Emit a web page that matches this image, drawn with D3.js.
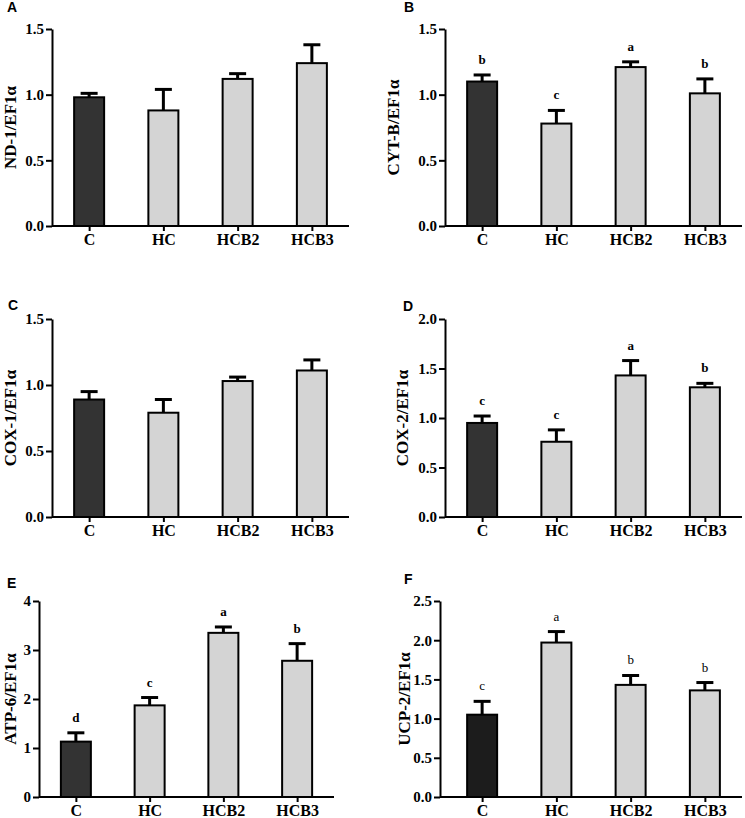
<!DOCTYPE html>
<html>
<head>
<meta charset="utf-8">
<script src="https://cdn.jsdelivr.net/npm/d3@7"></script>
<style>
  html, body { margin: 0; padding: 0; background: #fff; }
  svg { display: block; }
</style>
</head>
<body>
<svg id="chart" width="745" height="818"></svg>
<script>
// ---------- data ----------
const categories = ["C", "HC", "HCB2", "HCB3"];

const nd1Mean = [0.98, 0.88, 1.12, 1.24];
const nd1Err  = [0.03, 0.16, 0.04, 0.14];
const nd1Sig  = [];

const cytbMean = [1.10, 0.78, 1.21, 1.01];
const cytbErr  = [0.05, 0.10, 0.04, 0.11];
const cytbSig  = ["b", "c", "a", "b"];

const cox1Mean = [0.89, 0.79, 1.03, 1.11];
const cox1Err  = [0.06, 0.10, 0.03, 0.08];
const cox1Sig  = [];

const cox2Mean = [0.95, 0.76, 1.43, 1.31];
const cox2Err  = [0.07, 0.12, 0.15, 0.04];
const cox2Sig  = ["c", "c", "a", "b"];

const atp6Mean = [1.13, 1.87, 3.35, 2.78];
const atp6Err  = [0.18, 0.16, 0.12, 0.35];
const atp6Sig  = ["d", "c", "a", "b"];

const ucp2Mean = [1.05, 1.97, 1.43, 1.36];
const ucp2Err  = [0.17, 0.14, 0.12, 0.10];
const ucp2Sig  = ["c", "a", "b", "b"];

const ticks15 = [0, 0.5, 1.0, 1.5];
const ticks20 = [0, 0.5, 1.0, 1.5, 2.0];
const ticks4  = [0, 1, 2, 3, 4];
const ticks25 = [0, 0.5, 1.0, 1.5, 2.0, 2.5];

const yLabels = ["ND-1/EF1\u03B1", "CYT-B/EF1\u03B1", "COX-1/EF1\u03B1", "COX-2/EF1\u03B1", "ATP-6/EF1\u03B1", "UCP-2/EF1\u03B1"];
const panelLetters = ["A", "B", "C", "D", "E", "F"];

// ---------- layout ----------
const panels = [
  { mean: nd1Mean,  err: nd1Err,  sig: nd1Sig,  ticks: ticks15, fmt: ".1f", x0: 52,  bx0: 52,  x1: 349, yT: 29,  yB: 226, lx: 10,  px: 7,   py: 12,  dark: "#333333", sigBold: true },
  { mean: cytbMean, err: cytbErr, sig: cytbSig, ticks: ticks15, fmt: ".1f", x0: 445, bx0: 445, x1: 742, yT: 29,  yB: 226, lx: 393, px: 404, py: 12,  dark: "#333333", sigBold: true },
  { mean: cox1Mean, err: cox1Err, sig: cox1Sig, ticks: ticks15, fmt: ".1f", x0: 52,  bx0: 52,  x1: 349, yT: 319, yB: 517, lx: 10,  px: 8,   py: 310, dark: "#333333", sigBold: true },
  { mean: cox2Mean, err: cox2Err, sig: cox2Sig, ticks: ticks20, fmt: ".1f", x0: 445, bx0: 445, x1: 742, yT: 319, yB: 517, lx: 402, px: 403, py: 311, dark: "#333333", sigBold: true },
  { mean: atp6Mean, err: atp6Err, sig: atp6Sig, ticks: ticks4,  fmt: "d",   x0: 39,  bx0: 39,  x1: 334, yT: 601, yB: 797, lx: 10,  px: 7,   py: 588, dark: "#333333", sigBold: true },
  { mean: ucp2Mean, err: ucp2Err, sig: ucp2Sig, ticks: ticks25, fmt: ".1f", x0: 440, bx0: 445, x1: 742, yT: 601, yB: 797, lx: 404, px: 404, py: 584, dark: "#1c1c1c", sigBold: false }
];

const serif = "'Liberation Serif', 'Times New Roman', serif";
const sans = "'Liberation Sans', Arial, sans-serif";
const barW = 30, capW = 17;

const svg = d3.select("#chart");

panels.forEach((p, i) => {
  const g = svg.append("g");
  const x = d3.scalePoint().domain(categories).range([p.bx0, p.x1]).padding(0.5);
  const y = d3.scaleLinear().domain([0, d3.max(p.ticks)]).range([p.yB, p.yT]);

  const data = categories.map((c, j) => ({ c, m: p.mean[j], e: p.err[j], s: p.sig[j] }));

  // error bars (upper only), drawn behind the bars
  const eb = g.append("g");
  eb.selectAll("line.v").data(data).join("line")
    .attr("x1", d => x(d.c)).attr("x2", d => x(d.c))
    .attr("y1", d => y(d.m)).attr("y2", d => y(d.m + d.e))
    .attr("stroke", "#000").attr("stroke-width", 3);
  eb.selectAll("line.cap").data(data).join("line")
    .attr("x1", d => x(d.c) - capW / 2).attr("x2", d => x(d.c) + capW / 2)
    .attr("y1", d => y(d.m + d.e)).attr("y2", d => y(d.m + d.e))
    .attr("stroke", "#000").attr("stroke-width", 3);

  g.append("g").selectAll("rect").data(data).join("rect")
    .attr("x", d => x(d.c) - barW / 2)
    .attr("y", d => y(d.m))
    .attr("width", barW)
    .attr("height", d => y(0) - y(d.m))
    .attr("fill", (d, j) => j === 0 ? p.dark : "#d4d4d4")
    .attr("stroke", "#000")
    .attr("stroke-width", 2);

  // significance letters
  g.append("g").selectAll("text").data(data.filter(d => d.s)).join("text")
    .attr("x", d => x(d.c))
    .attr("y", d => y(d.m + d.e) - 11)
    .attr("text-anchor", "middle")
    .attr("font-family", serif)
    .attr("font-weight", p.sigBold ? "bold" : "normal")
    .attr("font-size", 13)
    .attr("fill", "#000")
    .text(d => d.s);

  // y axis
  const ya = g.append("g").attr("transform", `translate(${p.x0},0)`)
    .call(d3.axisLeft(y).tickValues(p.ticks).tickFormat(d3.format(p.fmt)).tickSize(6).tickSizeOuter(0).tickPadding(2));
  ya.select(".domain").attr("stroke", "#000").attr("stroke-width", 2);
  ya.selectAll(".tick line").attr("stroke", "#000").attr("stroke-width", 2);
  ya.selectAll(".tick text").attr("font-family", serif).attr("font-weight", "bold").attr("font-size", 15).attr("fill", "#000");

  // x axis
  const xa = g.append("g").attr("transform", `translate(0,${p.yB})`)
    .call(d3.axisBottom(x).tickSize(5).tickSizeOuter(0).tickPadding(3));
  xa.select(".domain").remove();
  xa.append("line").attr("x1", p.x0).attr("x2", p.x1).attr("y1", 0).attr("y2", 0)
    .attr("stroke", "#000").attr("stroke-width", 2);
  xa.selectAll(".tick line").attr("stroke", "#000").attr("stroke-width", 2);
  xa.selectAll(".tick text").attr("font-family", serif).attr("font-weight", "bold").attr("font-size", 16).attr("fill", "#000");

  // y label
  g.append("text")
    .attr("transform", `translate(${p.lx},${(p.yT + p.yB) / 2}) rotate(-90)`)
    .attr("text-anchor", "middle")
    .attr("dominant-baseline", "central")
    .attr("font-family", serif)
    .attr("font-weight", "bold")
    .attr("font-size", 17)
    .text(yLabels[i]);

  // panel letter
  g.append("text")
    .attr("x", p.px).attr("y", p.py)
    .attr("font-family", sans)
    .attr("font-weight", "bold")
    .attr("font-size", 14)
    .text(panelLetters[i]);
});
</script>
</body>
</html>
